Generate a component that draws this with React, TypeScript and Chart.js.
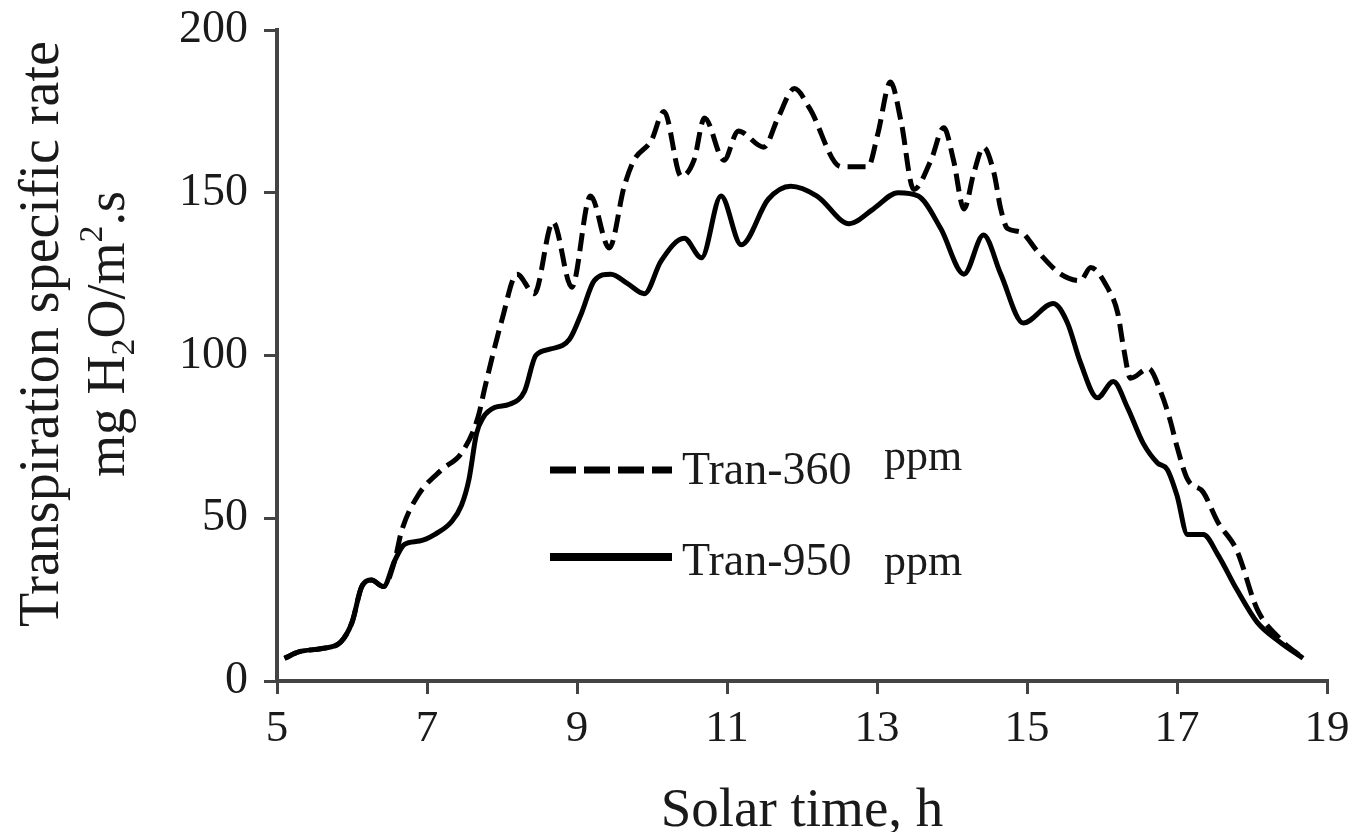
import React, { useEffect, useRef } from "react";
import { Chart, registerables } from "chart.js";

Chart.register(...registerables);

// Tran-360 ppm (dashed)
const times360 = [5.1, 5.3, 5.6, 5.85, 6.0, 6.13, 6.26, 6.42, 6.57, 6.66, 6.88, 7.2, 7.46, 7.68, 7.77, 8.0, 8.2, 8.43, 8.68, 8.93, 9.18, 9.43, 9.63, 9.76, 9.99, 10.16, 10.39, 10.56, 10.7, 10.96, 11.15, 11.49, 11.68, 11.9, 12.1, 12.52, 12.88, 13.01, 13.18, 13.32, 13.49, 13.72, 13.89, 14.02, 14.16, 14.29, 14.42, 14.56, 14.65, 14.74, 14.91, 15.14, 15.45, 15.71, 15.85, 16.07, 16.21, 16.29, 16.38, 16.62, 16.78, 16.91, 17.0, 17.14, 17.35, 17.54, 17.8, 18.07, 18.37, 18.68];
const values360 = [7, 9, 10, 12, 18, 29, 31, 29, 37, 46, 57, 65, 70, 81, 90, 111, 125, 119, 141, 121, 149, 133, 152, 160, 166, 175, 155, 160, 173, 160, 169, 164, 173, 182, 176, 158, 158, 168, 184, 172, 151, 160, 170, 160, 145, 156, 164, 156, 145, 139, 138, 132, 125, 123, 127, 121, 113, 102, 93, 96, 89, 80, 72, 62, 58, 49, 40, 22, 13, 7];

// Tran-950 ppm (solid)
const times950 = [5.1, 5.3, 5.6, 5.85, 6.0, 6.13, 6.26, 6.42, 6.57, 6.7, 6.9, 7.1, 7.33, 7.46, 7.56, 7.66, 7.75, 7.9, 8.1, 8.3, 8.45, 8.65, 8.9, 9.06, 9.23, 9.45, 9.68, 9.9, 10.12, 10.43, 10.66, 10.92, 11.19, 11.55, 11.85, 12.2, 12.63, 12.95, 13.28, 13.55, 13.85, 14.16, 14.42, 14.65, 14.95, 15.35, 15.54, 15.71, 15.94, 16.15, 16.34, 16.55, 16.74, 16.87, 17.0, 17.14, 17.35, 17.54, 17.8, 18.07, 18.37, 18.68];
const values950 = [7, 9, 10, 12, 18, 29, 31, 29, 37, 42, 43, 45, 49, 54, 62, 76, 81, 84, 85, 89, 100, 102, 105, 113, 123, 125, 122, 119, 129, 136, 130, 149, 134, 148, 152, 149, 140.5, 145, 150, 149, 139, 125, 137, 125, 110, 116, 110, 98, 87, 92, 84, 73, 67, 65, 57, 45, 45, 39, 28, 18, 12, 7];

const seriesLabels = ["Tran-360", "Tran-950"];
const unitLabel = "ppm";
const xTitle = "Solar time, h";
const yTitleLine1 = "Transpiration specific rate";
const xMin = 5;
const xMax = 19;
const xStep = 2;
const yMin = 0;
const yMax = 200;
const yStep = 50;

const FONT = '"Liberation Serif", "Times New Roman", serif';

export default function App() {
  const ref = useRef<HTMLCanvasElement>(null);

  useEffect(() => {
    const canvas = ref.current;
    if (!canvas) return;

    const textPlugin = {
      id: "customText",
      afterDraw(chart: any) {
        const ctx = chart.ctx as CanvasRenderingContext2D;
        const area = chart.chartArea;
        ctx.save();
        ctx.fillStyle = "#1a1a1a";
        // x axis title
        ctx.font = `55px ${FONT}`;
        ctx.textAlign = "center";
        ctx.textBaseline = "alphabetic";
        ctx.fillText(xTitle, (area.left + area.right) / 2, 826);

        // y axis title (rotated)
        ctx.save();
        ctx.translate(58, 334);
        ctx.rotate(-Math.PI / 2);
        ctx.font = `56px ${FONT}`;
        ctx.textAlign = "center";
        ctx.fillText(yTitleLine1, 0, 0);
        ctx.restore();

        // second line: mg H2O/m2.s with sub/superscript
        ctx.save();
        ctx.translate(124, 334);
        ctx.rotate(-Math.PI / 2);
        const big = `54px ${FONT}`;
        const small = `34px ${FONT}`;
        const parts: [string, string, number][] = [
          ["mg H", big, 0],
          ["2", small, 10],
          ["O/m", big, 0],
          ["2", small, -22],
          [".s", big, 0],
        ];
        let total = 0;
        for (const [t, f] of parts) {
          ctx.font = f;
          total += ctx.measureText(t).width;
        }
        let cx = -total / 2;
        ctx.textAlign = "left";
        for (const [t, f, dy] of parts) {
          ctx.font = f;
          ctx.fillText(t, cx, dy);
          cx += ctx.measureText(t).width;
        }
        ctx.restore();

        // legend
        const rows = [
          { y: 470, dash: [26, 8], width: 7, textY: 484, unitY: 470 },
          { y: 557, dash: [], width: 8, textY: 575, unitY: 575 },
        ];
        rows.forEach((r, i) => {
          ctx.save();
          ctx.strokeStyle = "#000";
          ctx.lineWidth = r.width;
          ctx.setLineDash(r.dash);
          ctx.beginPath();
          ctx.moveTo(550, r.y);
          ctx.lineTo(672, r.y);
          ctx.stroke();
          ctx.restore();
          ctx.font = `46px ${FONT}`;
          ctx.textAlign = "left";
          ctx.fillStyle = "#1a1a1a";
          ctx.fillText(seriesLabels[i], 682, r.textY);
          ctx.font = `44px ${FONT}`;
          ctx.fillText(unitLabel, 884, r.unitY);
        });
        ctx.restore();
      },
    };

    const chart = new Chart(canvas, {
      type: "line",
      data: {
        datasets: [
          {
            label: seriesLabels[0],
            data: times360.map((t, i) => ({ x: t, y: values360[i] })),
            borderColor: "#000",
            borderWidth: 5,
            borderDash: [18, 8],
            pointRadius: 0,
            fill: false,
            cubicInterpolationMode: "monotone",
          },
          {
            label: seriesLabels[1],
            data: times950.map((t, i) => ({ x: t, y: values950[i] })),
            borderColor: "#000",
            borderWidth: 5,
            pointRadius: 0,
            fill: false,
            cubicInterpolationMode: "monotone",
          },
        ],
      },
      options: {
        animation: false,
        responsive: true,
        maintainAspectRatio: false,
        layout: { padding: { top: 30, right: 27, bottom: 0, left: 0 } },
        plugins: {
          legend: { display: false },
          tooltip: { enabled: false },
        },
        scales: {
          x: {
            type: "linear",
            min: xMin,
            max: xMax,
            afterFit(scale: any) {
              scale.height = 151;
              scale.paddingLeft = 0;
              scale.paddingRight = 0;
            },
            ticks: {
              stepSize: xStep,
              color: "#1a1a1a",
              font: { family: FONT, size: 45 },
              padding: 8,
              maxRotation: 0,
            },
            grid: {
              display: true,
              drawOnChartArea: false,
              drawTicks: true,
              tickLength: 13,
              color: "#444",
              lineWidth: 3,
            },
            border: { display: true, color: "#444", width: 4 },
          },
          y: {
            type: "linear",
            min: yMin,
            max: yMax,
            afterFit(scale: any) {
              scale.width = 277;
              scale.paddingTop = 0;
              scale.paddingBottom = 0;
            },
            ticks: {
              stepSize: yStep,
              color: "#1a1a1a",
              font: { family: FONT, size: 46 },
              padding: 16,
            },
            grid: {
              display: true,
              drawOnChartArea: false,
              drawTicks: true,
              tickLength: 13,
              color: "#444",
              lineWidth: 3,
            },
            border: { display: true, color: "#444", width: 4 },
          },
        },
      },
      plugins: [textPlugin],
    } as any);

    return () => chart.destroy();
  }, []);

  return (
    <div
      style={{
        position: "fixed",
        left: 0,
        top: 0,
        width: 1354,
        height: 832,
        background: "#fff",
      }}
    >
      <canvas ref={ref} />
    </div>
  );
}
